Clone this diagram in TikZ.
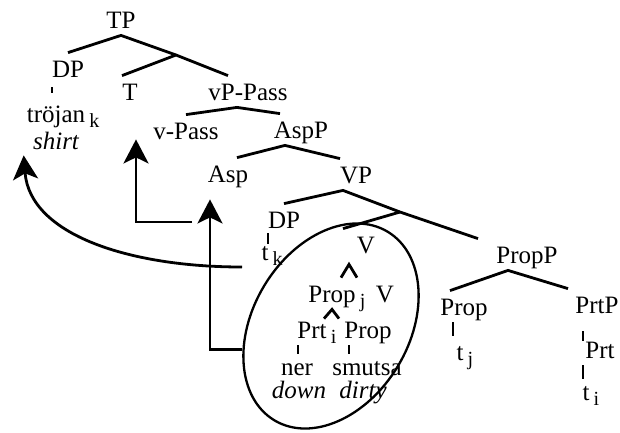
\documentclass[tikz,border=0pt]{standalone}
\usepackage{fontspec}
\setmainfont{Liberation Serif}
\usetikzlibrary{arrows.meta,shapes.geometric}

\newcommand{\idx}[1]{\rlap{\,\raisebox{-5pt}{\fontsize{20}{20}\selectfont #1}}}

\begin{document}
\begin{tikzpicture}[x=1pt,y=1pt,line width=2.8pt,
  cat/.style={anchor=base,inner xsep=1pt,inner ysep=6pt,text height=17pt,text depth=0pt,font=\fontsize{25}{28}\selectfont},
  gloss/.style={cat,inner ysep=2pt,text height=15pt,font=\fontsize{25}{28}\selectfont\itshape},
  branch/.style={line width=2.8pt,line join=miter},
  stem/.style={line width=2.8pt},
  move/.style={line width=2.8pt,-{Stealth[length=24pt,width=25pt,inset=6pt]}},
]
  \useasboundingbox (0,0) rectangle (620,-432);
%%
  % Node: TP
  \node[cat] (TP) at (121,-28) {TP};
  \node[cat] (DP) at (68,-77) {DP};
  \node[cat] (trojan) at (56,-122) {tröjan\idx{k}};
  \node[gloss] (shirt) at (56,-149) {shirt};
  \coordinate (Tbar) at (176,-55);
  \node[cat] (T) at (130,-100) {T};
  \node[cat] (vPPass) at (248,-100) {vP-Pass};
  \node[cat] (vPass) at (186,-139) {v-Pass};
  \node[cat] (AspP) at (301,-138) {AspP};
  \node[cat] (Asp) at (228,-182) {Asp};
  % Node: VP
  \node[cat] (VP) at (356,-183) {VP};
  \node[cat] (DPt) at (284,-228) {DP};
  \node[cat] (tk) at (265,-260) {t\idx{k}};
  \coordinate (Vbar) at (400,-212);
  \node[cat] (V) at (366,-253) {V};
  \node[cat] (Propj) at (332,-302) {Prop\idx{j}};
  \node[cat] (Vhead) at (385,-302) {V};
  \node[cat] (Prti) at (312,-338) {Prt\idx{i}};
  \node[cat] (Propin) at (368,-338) {Prop};
  \node[cat] (ner) at (297,-375) {ner};
  \node[cat] (smutsa) at (367,-375) {smutsa};
  \node[gloss] (down) at (299,-398) {down};
  \node[gloss] (dirty) at (363,-398) {dirty};
  % Node: PropP
  \node[cat] (PropP) at (527,-263) {PropP};
  \node[cat] (Prop) at (464,-315) {Prop};
  \node[cat] (tj) at (460,-360) {t\idx{j}};
  \node[cat] (PrtP) at (597,-313) {PrtP};
  \node[cat] (Prt) at (600,-358) {Prt};
  \node[cat] (ti) at (586,-400) {t\idx{i}};
  % Node: island
  \node[draw,ellipse,line width=2.3pt,minimum width=220pt,minimum height=156pt,inner sep=0pt,rotate=59] (island) at (331,-326) {};
%
  % Edge: TP -> DP, T'
  \draw[branch] (DP.north) -- (TP.south) -- (Tbar);
  \draw[branch] ([xshift=-8pt]T.north) -- (Tbar) -- ([xshift=-20pt]vPPass.north);
  \draw[branch] (vPass.north) -- ([xshift=-11pt]vPPass.south) -- ([xshift=-21pt]AspP.north);
  \draw[branch] ([xshift=9pt]Asp.north) -- ([xshift=-16pt]AspP.south) -- ([xshift=-16pt]VP.north);
  % Edge: VP -> DP, V', PropP
  \draw[branch] (DPt.north) -- ([xshift=-13pt]VP.south) -- (Vbar) -- ([xshift=-49pt]PropP.north);
  \draw[branch] ([xshift=-23pt]V.north) -- (Vbar);
  \draw[branch] ([xshift=-14pt]Prop.north) -- ([xshift=-19pt]PropP.south) -- ([xshift=-29pt]PrtP.north);
  % Edge: V -> Prop V, Prop -> Prt Prop
  \draw[branch] ([xshift=9pt]Propj.north) -- ([xshift=-17pt,yshift=-4pt]V.south) -- ([xshift=-28pt]Vhead.north);
  \draw[branch] ([xshift=12pt,yshift=-5pt]Prti.north) -- (Propj.south) -- ([xshift=-29pt,yshift=-5pt]Propin.north);
  % Edge: stems
  \draw[stem] ([xshift=-16pt,yshift=-3pt]DP.south) -- ([xshift=-4pt,yshift=5pt]trojan.north);
  \draw[stem] ([xshift=-16pt,yshift=2pt]DPt.south) -- ([xshift=3pt,yshift=-8pt]tk.north);
  \draw[stem] ([xshift=-14pt]Prti.south) -- ([xshift=1pt,yshift=-3pt]ner.north);
  \draw[stem] ([xshift=-19pt]Propin.south) -- ([xshift=-18pt,yshift=-3pt]smutsa.north);
  \draw[stem] ([xshift=-11pt]Prop.south) -- ([xshift=-7pt]tj.north);
  \draw[stem] ([xshift=-14pt,yshift=-11pt]PrtP.south) -- ([xshift=-17pt,yshift=-7pt]Prt.north);
  \draw[stem] ([xshift=-17pt]Prt.south) -- ([xshift=-3pt,yshift=-3pt]ti.north);
%
  % Edge: tk -> shirt
  \coordinate (tkfoot) at (242,-267);
  \draw[move] (tkfoot) .. controls (130,-267) and (30,-235) .. ([xshift=-7pt,yshift=-3pt]shirt.south west);
  % Edge: island -> Asp -> T
  \draw[move,shorten >=10pt] (island.136) -| ([xshift=-18pt]Asp.south);
  \coordinate (aspfoot) at (192,-222);
  \draw[move,shorten >=32pt] (aspfoot) -| ([xshift=6pt]T.south);
%
\end{tikzpicture}
\end{document}
